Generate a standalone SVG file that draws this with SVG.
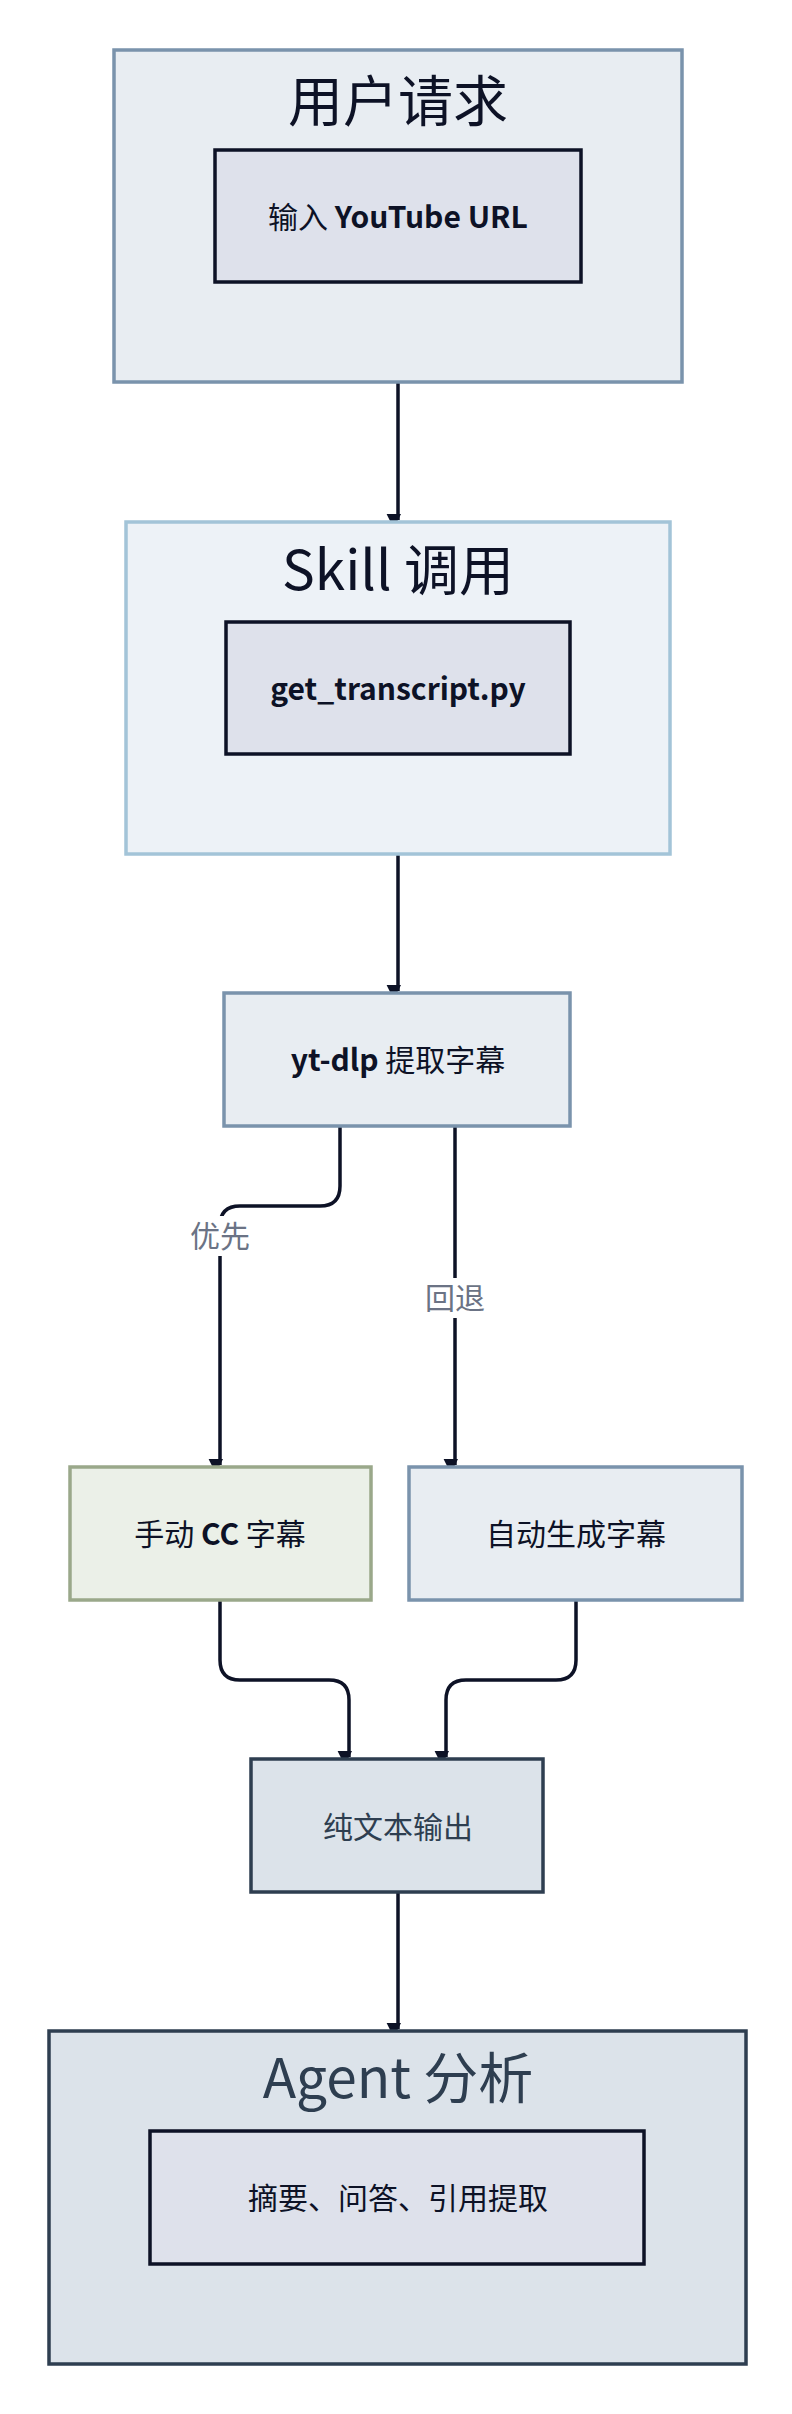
<svg xmlns="http://www.w3.org/2000/svg" width="792" height="2414" viewBox="0 0 792 2414">
<style>
text{font-family:"Noto Sans CJK SC","Noto Sans",sans-serif;text-anchor:middle}
.t{font-size:30px;fill:#0d1226}
.big{font-size:55px;fill:#0d1226}
.b{font-weight:bold}
.in{fill:#dee1eb;stroke:#0d1226;stroke-width:3.5}
.edge{fill:none;stroke:#0d1226;stroke-width:3.5;marker-end:url(#ah)}
.lbl{font-size:30px;fill:#6b7385}
</style>
<defs>
<marker id="ah" viewBox="0 0 10 10" refX="10" refY="5" markerWidth="7" markerHeight="6" markerUnits="userSpaceOnUse" orient="auto" overflow="visible">
<path d="M0,0 L10,5 L0,10 Z" fill="#0d1226" transform="scale(2.4)"/>
</marker>
</defs>
<g id="connectors">
<path class="edge" d="M398,382 V520"/>
<path class="edge" d="M398,854 V991"/>
<path class="edge" d="M340,1126 V1186 Q340,1206 320,1206 H240 Q220,1206 220,1226 V1465"/>
<path class="edge" d="M455,1126 V1465"/>
<path class="edge" d="M220,1600 V1660 Q220,1680 240,1680 H329 Q349,1680 349,1700 V1757"/>
<path class="edge" d="M576,1600 V1660 Q576,1680 556,1680 H466 Q446,1680 446,1700 V1757"/>
<path class="edge" d="M398,1892 V2029"/>
<rect x="184" y="1216" width="72" height="40" fill="#fff"/>
<text class="lbl" x="220" y="1247">优先</text>
<rect x="419" y="1278" width="72" height="40" fill="#fff"/>
<text class="lbl" x="455" y="1309">回退</text>
</g>
<g id="user">
<rect x="114" y="50" width="568" height="332" fill="#e8edf2" stroke="#7a93ac" stroke-width="3.5"/>
<text class="big" x="398" y="121">用户请求</text>
<rect class="in" x="215" y="150" width="366" height="132"/>
<text class="t" x="398" y="228">输入 <tspan class="b">YouTube URL</tspan></text>
</g>
<g id="skill">
<rect x="126" y="522" width="544" height="332" fill="#edf2f7" stroke="#a3c4d8" stroke-width="3.5"/>
<text class="big" x="398" y="590">Skill 调用</text>
<rect class="in" x="226" y="622" width="344" height="132"/>
<text class="t b" x="398" y="700">get_transcript.py</text>
</g>
<g id="ytdlp">
<rect x="224" y="993" width="346" height="133" fill="#e8edf2" stroke="#7a93ac" stroke-width="3.5"/>
<text class="t" x="398" y="1071"><tspan class="b">yt-dlp</tspan> 提取字幕</text>
</g>
<g id="manual">
<rect x="70" y="1467" width="301" height="133" fill="#ebf0e8" stroke="#9aa88a" stroke-width="3.5"/>
<text class="t" x="220" y="1545">手动 <tspan class="b">CC</tspan> 字幕</text>
</g>
<g id="auto">
<rect x="409" y="1467" width="333" height="133" fill="#e8edf2" stroke="#7a93ac" stroke-width="3.5"/>
<text class="t" x="576" y="1545">自动生成字幕</text>
</g>
<g id="plain">
<rect x="251" y="1759" width="292" height="133" fill="#dce3ea" stroke="#2e3e50" stroke-width="3.5"/>
<text class="t" x="398" y="1838" fill="#2e3e50" style="fill:#2e3e50">纯文本输出</text>
</g>
<g id="agent">
<rect x="49" y="2031" width="697" height="333" fill="#dce3ea" stroke="#2e3e50" stroke-width="3.5"/>
<text class="big" x="398" y="2098" style="fill:#2e3e50">Agent 分析</text>
<rect class="in" x="150" y="2131" width="494" height="133"/>
<text class="t" x="398" y="2209">摘要、问答、引用提取</text>
</g>
</svg>
